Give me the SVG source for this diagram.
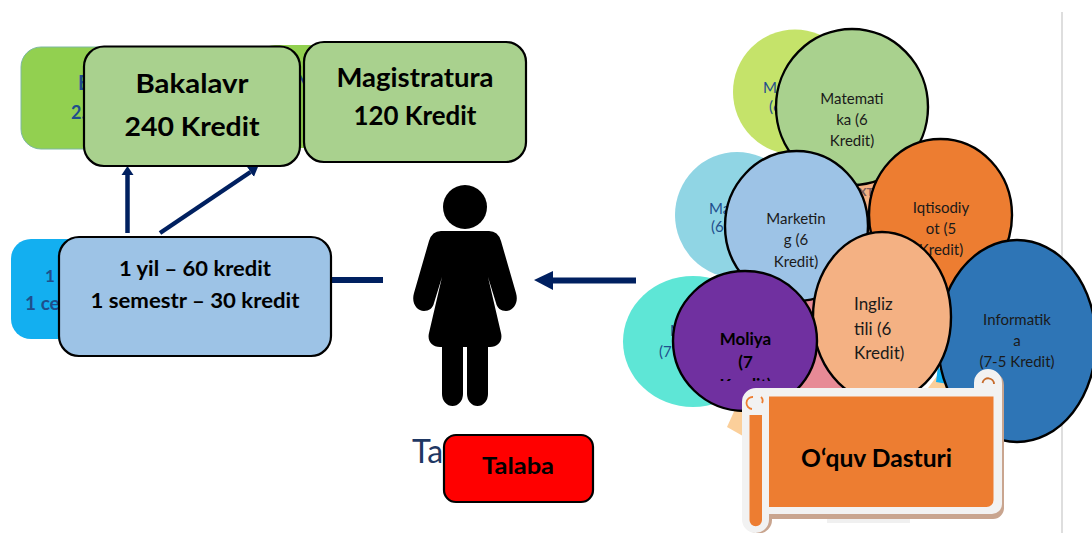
<svg xmlns="http://www.w3.org/2000/svg" width="1092" height="533" viewBox="0 0 1092 533">
<style>
text{font-family:"Lato","Carlito","Liberation Sans",sans-serif;fill:#000;text-anchor:middle}
.b{font-weight:700}
.back{fill:#1f4e8c;text-anchor:start}
.edge{stroke:#000;stroke-width:2.4}
.box{stroke:#000;stroke-width:2.2}
.c{font-size:15px;fill:#1a1a1a}
.i{font-size:17px;fill:#1a1a1a;text-anchor:start}
.nav{stroke:#002060;fill:none}
</style>
<defs>
<marker id="ah" markerUnits="userSpaceOnUse" markerWidth="11" markerHeight="14" refX="0" refY="6.500" orient="auto"><path d="M0 0.500L9 6.500L0 12.500Z" fill="#002060"/></marker>
<clipPath id="molclip"><rect x="673" y="271" width="144" height="110"/></clipPath>
</defs>
<rect id="page-rule" x="1061" y="12" width="2" height="521" fill="#dedede"/>

<g id="back-green-1"><rect x="21" y="47" width="150" height="102" rx="20" fill="#92d050" stroke="#7cb8a0" stroke-width="1"/>
<text class="back b" x="78" y="90" font-size="20">E</text><text class="back b" x="71" y="119" font-size="18">2.</text></g>
<g id="back-green-2"><rect x="255" y="45" width="120" height="103" rx="20" fill="#92d050"/>
<text class="back b" x="297" y="89" font-size="18">M</text></g>
<g id="back-blue"><rect x="11" y="239" width="120" height="100" rx="20" fill="#13aff0"/>
<text class="back b" x="45" y="282" font-size="17">1</text><text class="back b" x="25" y="310" font-size="19">1 ce</text></g>

<g id="connectors">
<path class="nav" d="M127.500 233V175" stroke-width="4.500" marker-end="url(#ah)"/>
<path class="nav" d="M160 233L250.500 172" stroke-width="4.500" marker-end="url(#ah)"/>
<path class="nav" d="M331 280H383" stroke-width="6"/>
<path class="nav" d="M636 280.500H550" stroke-width="6"/>
<path d="M534 280L553 271V290Z" fill="#002060"/>
</g>

<g id="bakalavr"><rect class="box" x="84" y="46.500" width="216" height="119.500" rx="20" fill="#a9d18e"/>
<text class="b" x="192" y="93" font-size="27" textLength="113" lengthAdjust="spacingAndGlyphs">Bakalavr</text>
<text class="b" x="192" y="136" font-size="27" textLength="135" lengthAdjust="spacingAndGlyphs">240 Kredit</text></g>
<g id="magistratura"><rect class="box" x="304" y="42" width="222" height="120" rx="20" fill="#a9d18e"/>
<text class="b" x="415" y="87" font-size="26" textLength="157" lengthAdjust="spacingAndGlyphs">Magistratura</text>
<text class="b" x="415" y="125" font-size="26" textLength="123" lengthAdjust="spacingAndGlyphs">120 Kredit</text></g>
<g id="yil"><rect class="box" x="59" y="237" width="272" height="119" rx="20" fill="#9dc3e6"/>
<text class="b" x="195" y="276" font-size="21" textLength="152" lengthAdjust="spacingAndGlyphs">1 yil – 60 kredit</text>
<text class="b" x="195" y="308" font-size="21" textLength="209" lengthAdjust="spacingAndGlyphs">1 semestr – 30 kredit</text></g>

<g id="person">
<circle cx="465" cy="207" r="22"/>
<path d="M441 231H489Q498 231 501 241L516 293C519 303 513 311 506 311C501 311 497 308 496 303L488 277L501 333C503 341 498 347 490 347H488V394A10.500 12 0 0 1 467 394V347H463V394A10.500 12 0 0 1 442 394V347H440C432 347 427 341 429 333L442 277L434 303C433 308 429 311 424 311C417 311 411 303 414 293L429 241Q432 231 441 231Z"/>
</g>

<g id="talaba"><text x="412" y="463" font-size="32" style="text-anchor:start;fill:#1f3864">Ta</text>
<rect class="box" x="444" y="435" width="149" height="67" rx="12" fill="#f00"/>
<text class="b" x="518" y="474" font-size="23" textLength="72" lengthAdjust="spacingAndGlyphs">Talaba</text></g>

<g id="back-circles">
<ellipse cx="795" cy="92" rx="62" ry="62.500" fill="#c5e36a"/>
<text class="back" x="763" y="93" font-size="15">Ma</text><text class="back" x="769" y="112" font-size="15">(6</text>
<ellipse cx="737" cy="215" rx="62" ry="63" fill="#90d5e4"/>
<text class="back" x="709" y="214" font-size="15">Ma</text><text class="back" x="711" y="232" font-size="15">(6</text>
<ellipse cx="693" cy="341.500" rx="70" ry="65.500" fill="#5ee6d6"/>
<text class="back" x="670" y="336" font-size="15">M</text><text class="back" x="659" y="357" font-size="15">(7</text>
<ellipse cx="866" cy="240" rx="30" ry="62" fill="#f4b183"/>
<text x="866" y="196" font-size="12" style="fill:#7a5a5a" class="b">XT</text>
<ellipse cx="825" cy="345" rx="50" ry="62" fill="#e78a96"/>
<path d="M727 427L737 405L760 410L750 440Z" fill="#fbcf9a"/>
<path d="M928 388L940 372L948 390Z" fill="#fbcf9a"/>
<path d="M936 382L938 366L948 384Z" fill="#13aff0"/>
</g>

<g id="matematika"><ellipse class="edge" cx="852" cy="107" rx="76" ry="78" fill="#a9d18e"/>
<text class="c" x="852" y="104">Matemati</text><text class="c" x="852" y="125">ka (6</text><text class="c" x="852" y="146">Kredit)</text></g>
<g id="iqtisodiyot"><ellipse class="edge" cx="940.500" cy="215" rx="71.500" ry="76" fill="#ed7d31"/>
<text class="c" x="941" y="213">Iqtisodiy</text><text class="c" x="941" y="234">ot (5</text><text class="c" x="941" y="255">Kredit)</text></g>
<g id="marketing"><ellipse class="edge" cx="796.500" cy="226" rx="71.500" ry="75" fill="#9dc3e6"/>
<text class="c" x="796" y="224">Marketin</text><text class="c" x="796" y="245">g (6</text><text class="c" x="796" y="267">Kredit)</text></g>
<g id="informatika"><ellipse class="edge" cx="1017" cy="341" rx="79" ry="101" fill="#2e75b6"/>
<text class="c" x="1017" y="325">Informatik</text><text class="c" x="1017" y="346">a</text><text class="c" x="1017" y="367">(7-5 Kredit)</text></g>
<g id="ingliz"><ellipse class="edge" cx="882" cy="317" rx="69" ry="85" fill="#f4b183"/>
<text class="i" x="854" y="310">Ingliz</text><text class="i" x="854" y="335">tili (6</text><text class="i" x="854" y="359">Kredit)</text></g>
<g id="moliya"><ellipse class="edge" cx="745" cy="341" rx="72" ry="70" fill="#7030a0"/>
<text class="b" x="745.500" y="345" font-size="17">Moliya</text><text class="b" x="745.500" y="368" font-size="17">(7</text>
<text class="b" x="745.500" y="391" font-size="17" clip-path="url(#molclip)">Kredit)</text></g>

<g id="oquv-dasturi">
<path d="M827 517H910V523H827Z" fill="#f0f0f0"/>
<path fill="#c9a58f" d="M745 394H977V385A13.500 13.500 0 0 1 1004 385V508A11 11 0 0 1 993 519H772V520A13.500 13.500 0 0 1 745 520Z"/>
<path fill="#f2f2f2" d="M756 388H974V383A14 14 0 0 1 1002 383V504A10 10 0 0 1 992 514H769V519.500A13.500 13.500 0 0 1 742 519.500V402A14 14 0 0 1 756 388Z"/>
<path fill="#ed7d31" d="M769 396.500H993.500V500A7 7 0 0 1 986.500 507H769Z"/>
<path fill="#ed7d31" d="M749.500 415H762V520A6.250 6.250 0 0 1 749.500 520Z"/>
<path fill="none" stroke="#ed7d31" stroke-width="1.800" d="M752 409A5 5 0 0 1 753 397M761 397A5 5 0 0 1 762 403"/>
<path fill="none" stroke="#c66a2a" stroke-width="1.800" d="M982.500 383A5.800 5.800 0 0 1 994 384"/>
<text class="b" x="876.500" y="467" font-size="25" textLength="151" lengthAdjust="spacingAndGlyphs">O‘quv Dasturi</text>
</g>
</svg>
